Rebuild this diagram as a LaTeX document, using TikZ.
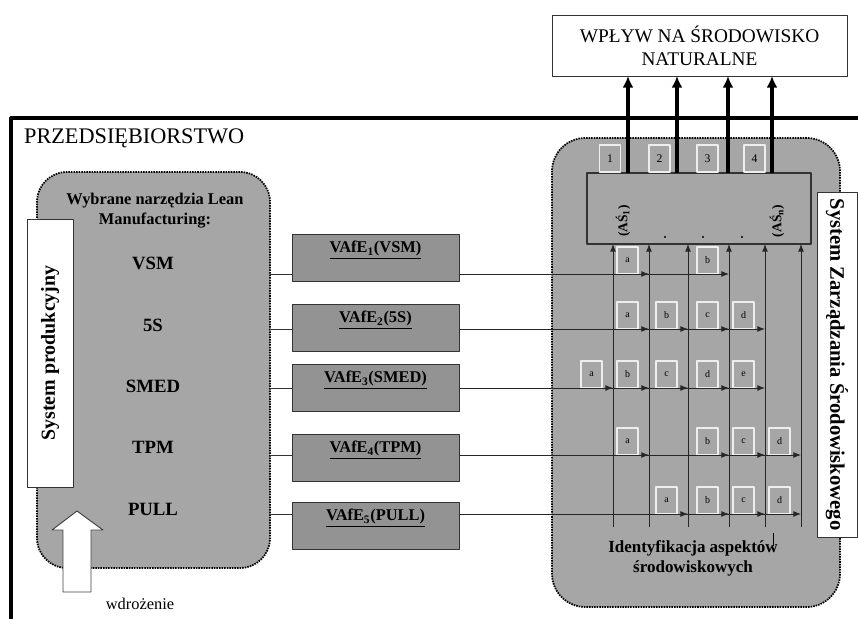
\documentclass[tikz,border=0pt]{standalone}
\usepackage{fontspec}
\setmainfont{Liberation Serif}
\usetikzlibrary{arrows.meta}

\definecolor{panelgray}{RGB}{166,166,166}
\definecolor{boxgray}{RGB}{147,147,147}
\definecolor{tabline}{RGB}{238,238,238}

\tikzset{
  sized/.style 2 args={minimum width=#1*0.03cm,minimum height=#2*0.03cm,inner sep=0pt,outer sep=0pt},
  panel/.style={fill=panelgray,draw=black,line width=1.5pt,dash pattern=on 1.3pt off 0.9pt,rounded corners=9mm},
  whitebox/.style={draw=black!80,fill=white,line width=0.7pt},
  toolbox/.style={draw=black!80,fill=boxgray,line width=0.8pt},
  tabbox/.style={draw=tabline,line width=0.9pt,sized={21}{27},font=\fontsize{8.5}{10}\selectfont},
  tooltext/.style={font=\bfseries\fontsize{16}{19}\selectfont},
  vtext/.style={font=\bfseries\fontsize{14}{17}\selectfont},
  link/.style={draw=black!80,line width=0.7pt},
  colarrow/.style={draw=black!85,line width=0.7pt,-{Latex[length=6.5pt,width=5pt]}},
  rowarrow/.style={draw=black!85,line width=0.8pt,-{Latex[length=6.5pt,width=5pt]}},
  impactarrow/.style={line width=2.6pt,-{Latex[length=10pt,width=9.5pt]}},
}

\begin{document}
\begin{tikzpicture}[x=0.03cm,y=-0.03cm,line join=round]
\useasboundingbox (0,0) rectangle (858,619);
% przedsiebiorstwo
\draw[line width=2.6pt] (11,619) -- (11,118) -- (858,118);
\node[anchor=west,font=\fontsize{19}{22}\selectfont] (firm) at (20,138) {PRZEDSIĘBIORSTWO};
\node[whitebox,sized={295}{61},align=center,font=\fontsize{16.5}{19.5}\selectfont] (impact) at (699.5,45.5) {WPŁYW NA ŚRODOWISKO\\NATURALNE};

% narzedzia Lean
\node[panel,sized={233}{396}] (lean) at (153.5,370) {};
\node[whitebox,rotate=90,sized={268}{46},font=\bfseries\fontsize{17}{20}\selectfont] (prod) at (50,353) {System produkcyjny};
\node[align=center,font=\bfseries\fontsize{14}{17}\selectfont] (head) at (155,211) {Wybrane narzędzia Lean\\Manufacturing:};
\foreach \tool/\ypos in {VSM/263,5S/325,SMED/386,TPM/447,PULL/509}
  \node[tooltext] (t\tool) at (153,\ypos) {\tool};
\draw[fill=white,draw=black!75,line width=0.8pt] (63,592) -- (63,530) -- (52,530) -- (77,511) -- (103,530) -- (91,530) -- (91,592) -- cycle;
\node[font=\fontsize{14}{16}\selectfont] (impl) at (140,604) {wdrożenie};

% VAfE
\foreach \i/\ypos/\name in {1/257.5/VSM,2/327.5/5S,3/387.5/SMED,4/457.5/TPM,5/525.5/PULL}{
  \node[toolbox,sized={167}{47}] (e\i) at (375.5,\ypos) {};
  \node[vtext] at ([yshift=-0.48cm]e\i.north) {\underline{VAfE\textsubscript{\i}(\name)}};
}
\foreach \i/\ypos in {1/274,2/329,3/388,4/455,5/514}
  \coordinate (row\i) at (0,\ypos);
\foreach \i in {1,...,5}
  \draw[link] (lean.east |- row\i) -- (e\i.west |- row\i);

% aspekty srodowiskowe
\node[panel,rounded corners=10mm,sized={288}{469}] (env) at (696,372.5) {};
\node[draw=black!80,fill=panelgray,line width=0.9pt,sized={224}{71}] (aspects) at (699,208.5) {};
\node[rotate=90,font=\bfseries\fontsize{11.5}{13}\selectfont] (as1) at (623,221) {(AŚ\textsubscript{1})};
\node[rotate=90,font=\bfseries\fontsize{11.5}{13}\selectfont] (asn) at (777,221) {(AŚ\textsubscript{n})};
\foreach \xpos in {665,703,742}
  \fill (\xpos,237) circle (0.9pt);
\foreach \k/\xpos in {1/610,2/659.5,3/707.5,4/754.5}
  \node[tabbox,font=\fontsize{10}{12}\selectfont] (n\k) at (\xpos,158.5) {\k};
\foreach \k/\xpos in {1/628,2/677,3/728,4/772}
  \draw[impactarrow] (aspects.north -| \xpos,0) -- (impact.south -| \xpos,0);
\foreach \k/\xpos in {1/613,2/649,3/688,4/729,5/765,6/801}{
  \coordinate (col\k) at (\xpos,527);
  \draw[colarrow] (col\k) -- (col\k |- aspects.south);
}
\foreach \i/\tips in {1/{2/a,4/b},2/{2/a,3/b,4/c,5/d},3/{1/a,2/b,3/c,4/d,5/e},4/{2/a,4/b,5/c,6/d},5/{3/a,4/b,5/c,6/d}}
  \foreach \k/\lab in \tips {
    \node[tabbox,anchor=south east] at ([xshift=-0.33cm]col\k |- row\i) {\lab};
    \draw[rowarrow] (e\i.east |- row\i) -- (col\k |- row\i);
  }
\draw[line width=0.6pt] (773,533) -- (773,546);
\node[align=center,font=\bfseries\fontsize{14.5}{17}\selectfont] (ident) at (693,558) {Identyfikacja aspektów\\środowiskowych};
\node[whitebox,rotate=-90,sized={345}{40},font=\bfseries\fontsize{17.6}{20}\selectfont] (ems) at (837,364.5) {System Zarządzania Środowiskowego};
\end{tikzpicture}
\end{document}
